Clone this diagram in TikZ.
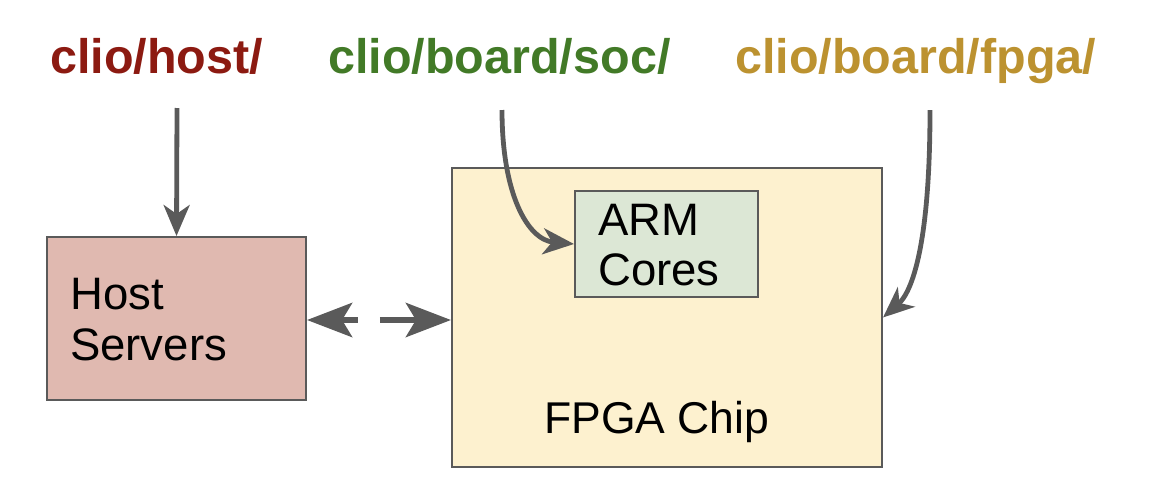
\documentclass[tikz,border=0pt]{standalone}
\usepackage{fontspec}
\setmainfont{Liberation Sans}
\usetikzlibrary{arrows.meta}
\definecolor{hostred}{HTML}{8C1A11}
\definecolor{socgreen}{HTML}{427A27}
\definecolor{fpgagold}{HTML}{BC9230}
\definecolor{hostfill}{HTML}{E0B9B0}
\definecolor{fpgafill}{HTML}{FDF1CF}
\definecolor{armfill}{HTML}{DCE7D5}
\definecolor{edge}{HTML}{5A5A5A}
\tikzset{
  box/.style={draw=edge, line width=2pt, rectangle, inner sep=0pt},
  path label/.style={font=\fontsize{48.5}{50}\selectfont\bfseries, inner sep=0pt, anchor=base west},
  boxtext/.style={font=\fontsize{45.5}{50}\selectfont, inner sep=0pt, anchor=base west, text=black},
  conn/.style={draw=edge, line width=4.8pt, -{Stealth[length=31pt, width=26pt, inset=9pt]}},
  biconn/.style={draw=edge, line width=6.5pt, {Stealth[length=45pt, width=34pt, inset=10pt]}-{Stealth[length=45pt, width=34pt, inset=10pt]}, dash pattern=on 18pt off 22pt on 80pt off 0pt},
}
\begin{document}
\begin{tikzpicture}[x=1pt, y=-1pt]
\useasboundingbox (0,0) rectangle (1150,496);
% labels
\node[path label, text=hostred] (lhost) at (50,73) {clio/host/};
\node[path label, text=socgreen] (lsoc) at (328,73) {clio/board/soc/};
\node[path label, text=fpgagold] (lfpga) at (735,73) {clio/board/fpga/};
% boxes
\node[box, fill=hostfill, minimum width=259pt, minimum height=163pt] (host) at (176.5,318.5) {};
\node[box, fill=fpgafill, minimum width=430pt, minimum height=299pt] (fpga) at (667,317.5) {};
\node[box, fill=armfill, minimum width=183pt, minimum height=106pt] (arm) at (666.5,244) {};
% box texts
\node[boxtext] (hosta) at (70,309) {Host};
\node[boxtext] (hostb) at (70,360) {Servers};
\node[boxtext] (arma) at (598,235) {ARM};
\node[boxtext] (armb) at (598,285) {Cores};
\node[boxtext, font=\fontsize{44.5}{50}\selectfont] (fpgat) at (544,433) {FPGA Chip};
% connector starts
\coordinate (shost) at (177,108);
\coordinate (ssoc) at (502,110);
\coordinate (sfpga) at (930,110);
% connectors
\draw[conn] (shost) -- (host.north);
\draw[conn] (ssoc) .. controls (502,195) and (528,240) .. (arm.west);
\draw[conn] (sfpga) .. controls (930,245) and (912,292) .. (fpga.east);
\draw[biconn] (host.east |- 0,320) -- (fpga.west |- 0,320);
\end{tikzpicture}
\end{document}
